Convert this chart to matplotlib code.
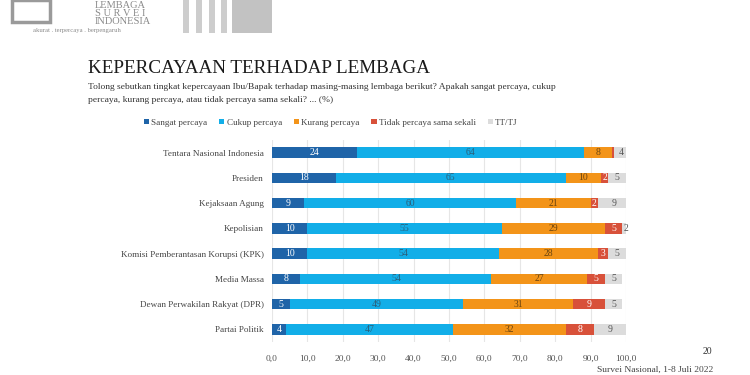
import matplotlib.pyplot as plt
import numpy as np
from matplotlib.patches import Rectangle

# data (%)
institutions = ['Tentara Nasional Indonesia', 'Presiden', 'Kejaksaan Agung', 'Kepolisian',
                'Komisi Pemberantasan Korupsi (KPK)', 'Media Massa',
                'Dewan Perwakilan Rakyat (DPR)', 'Partai Politik']
sangat = [24, 18, 9, 10, 10, 8, 5, 4]
cukup = [64, 65, 60, 55, 54, 54, 49, 47]
kurang = [8, 10, 21, 29, 28, 27, 31, 32]
tidak = [0.6, 2, 2, 5, 3, 5, 9, 8]
tttj = [4, 5, 9, 2, 5, 5, 5, 9]

series_names = ['Sangat percaya', 'Cukup percaya', 'Kurang percaya',
                'Tidak percaya sama sekali', 'TT/TJ']
colors = ['#1f64a8', '#12aee8', '#f39419', '#d8513a', '#dcdcdc']
text_colors = ['white', '#2b5f7a', '#6b4510', 'white', '#555555']
xticks = np.arange(0, 101, 10)

plt.rcParams['font.family'] = ['Liberation Serif', 'DejaVu Serif']

fig = plt.figure(figsize=(7.5, 3.75), dpi=100)
fig.patch.set_facecolor('white')

# logo area (top left)
gray = '#8a8a8a'
fig.patches.append(Rectangle((12 / 750, 1 - 22 / 375), 38 / 750, 22 / 375,
                             transform=fig.transFigure, fill=False,
                             edgecolor='#9a9a9a', lw=2.5))
fig.text(95 / 750, 1 - 1 / 375, 'LEMBAGA', color=gray, fontsize=7.5, va='top')
fig.text(95 / 750, 1 - 9 / 375, 'S U R V E I', color=gray, fontsize=7.5, va='top')
fig.text(95 / 750, 1 - 17 / 375, 'INDONESIA', color=gray, fontsize=7.5, va='top')
fig.text(33 / 750, 1 - 28 / 375, 'akurat . terpercaya . berpengaruh', color=gray,
         fontsize=4.8, va='top')
for x0 in [183, 196, 209, 221]:
    fig.patches.append(Rectangle((x0 / 750, 1 - 33 / 375), 6 / 750, 33 / 375,
                                 transform=fig.transFigure, color='#cdcdcd', lw=0))
fig.patches.append(Rectangle((232 / 750, 1 - 33 / 375), 40 / 750, 33 / 375,
                             transform=fig.transFigure, color='#c2c2c2', lw=0))

# title and question
fig.text(88 / 750, 1 - 73 / 375, 'KEPERCAYAAN TERHADAP LEMBAGA', fontsize=13.8,
         color='#1a1a1a', va='baseline')
fig.text(88 / 750, 1 - 83 / 375,
         'Tolong sebutkan tingkat kepercayaan Ibu/Bapak terhadap masing-masing lembaga berikut? '
         'Apakah sangat percaya, cukup\npercaya, kurang percaya, atau tidak percaya sama sekali? ... (%)',
         fontsize=6.8, color='#333333', va='top', linespacing=1.75)

ax = fig.add_axes([272 / 750, 1 - 342 / 375, 354 / 750, 202 / 375])
y = np.arange(len(institutions))
left = np.zeros(len(institutions))
all_series = [sangat, cukup, kurang, tidak, tttj]
for vals, name, col, tcol in zip(all_series, series_names, colors, text_colors):
    vals = np.array(vals, dtype=float)
    ax.barh(y, vals, left=left, height=0.42, color=col, label=name, zorder=3)
    for yi, (l, v) in enumerate(zip(left, vals)):
        if v >= 1.5:
            ax.text(l + v / 2, yi, '%d' % round(v), ha='center', va='center',
                    fontsize=7, color=tcol, zorder=4)
    left += vals

ax.set_xlim(0, 100)
ax.set_ylim(len(institutions) - 0.5, -0.5)
ax.set_yticks(y)
ax.set_yticklabels(institutions, fontsize=6.6, color='#444444')
ax.set_xticks(xticks)
ax.set_xticklabels(['%d,0' % t for t in xticks], fontsize=6.8, color='#555555')
ax.tick_params(axis='y', length=0, pad=6)
ax.tick_params(axis='x', length=0, pad=9)
for s in ax.spines.values():
    s.set_visible(False)
ax.grid(axis='x', color='#e6e6e6', lw=0.8, zorder=0)

ax.legend(loc='lower left', bbox_to_anchor=(-0.385, 1.025), ncol=5, frameon=False,
          fontsize=6.6, handlelength=0.55, handleheight=0.55, handletextpad=0.25,
          columnspacing=1.3, labelcolor='#444444')

fig.text(707 / 750, 1 - 352 / 375, '20', fontsize=7, color='#333333', ha='center', va='center')
fig.text(655 / 750, 1 / 375, 'Survei Nasional, 1-8 Juli 2022', fontsize=6.8,
         color='#444444', ha='center', va='bottom')

fig.savefig('out.png', dpi=100, facecolor='white')
